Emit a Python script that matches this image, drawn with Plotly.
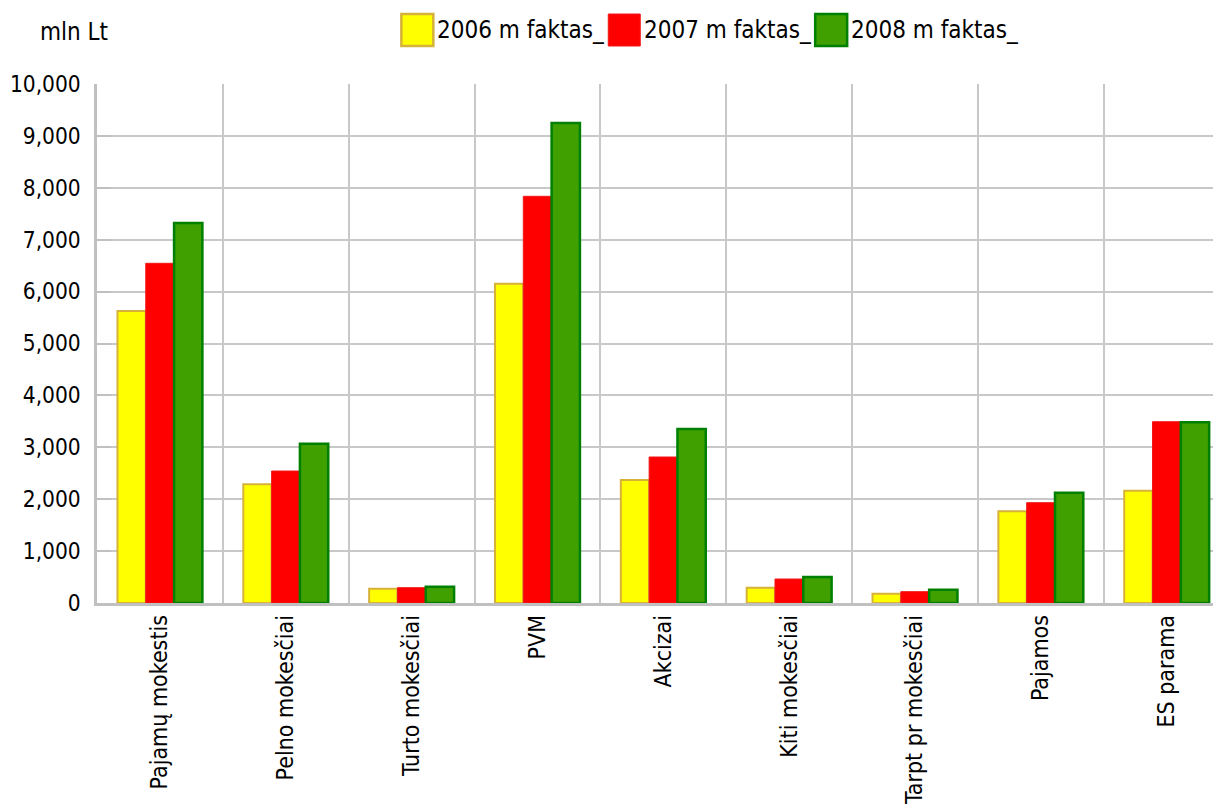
import plotly.graph_objects as go

categories = ["Pajamų mokestis", "Pelno mokesčiai", "Turto mokesčiai", "PVM", "Akcizai",
              "Kiti mokesčiai", "Tarpt pr mokesčiai", "Pajamos", "ES parama"]
series_names = ["2006 m faktas_", "2007 m faktas_", "2008 m faktas_"]
values_2006 = [5626, 2287, 276, 6152, 2370, 295, 180, 1766, 2164]
values_2007 = [6545, 2543, 295, 7836, 2813, 462, 218, 1933, 3493]
values_2008 = [7322, 3070, 314, 9249, 3353, 501, 257, 2126, 3482]
unit_label = "mln Lt"

series_values = [values_2006, values_2007, values_2008]
fill_colors = ["#FFFF00", "#FF0000", "#3FA000"]
line_colors = ["#D6B23A", "#F01818", "#008000"]
line_widths = [2, 1, 2.5]

# page body offset (browser default margin)
OFF = 8
W, H = 1221 - OFF, 810 - OFF
# plot area in reference (window) pixels
L_REF, R_REF, T_REF, B_REF = 96.5, 1221, 84, 603
FONT = "DejaVu Sans Condensed, DejaVu Sans"
FS = 24


def px_x(px):
    return (px - L_REF) / (R_REF - L_REF)


def px_y(py):
    return (B_REF - py) / (B_REF - T_REF)


fig = go.Figure()
for name, vals, fc, lc, lw in zip(series_names, series_values, fill_colors, line_colors, line_widths):
    fig.add_trace(go.Bar(
        x=categories, y=vals, name=name,
        marker=dict(color=fc, line=dict(color=lc, width=lw)),
        showlegend=False,
    ))

cat_px = 125.9
span = (R_REF - L_REF) / cat_px

shapes = []
annotations = []
leg_x0 = 400
leg_step = 207
for i, (name, fc, lc) in enumerate(zip(series_names, fill_colors, line_colors)):
    x0 = leg_x0 + i * leg_step
    shapes.append(dict(type="rect", xref="paper", yref="paper",
                       x0=px_x(x0 + 1), x1=px_x(x0 + 33), y0=px_y(46), y1=px_y(14),
                       fillcolor=fc, line=dict(color=lc, width=2.5 if i != 1 else 1)))
    annotations.append(dict(text=name, xref="paper", yref="paper",
                            x=px_x(x0 + 35), y=px_y(30), xanchor="left", yanchor="middle",
                            showarrow=False, font=dict(size=FS, color="#000000", family=FONT)))

annotations.append(dict(text=unit_label, xref="paper", yref="paper",
                        x=px_x(37), y=px_y(32), xanchor="left", yanchor="middle",
                        showarrow=False, font=dict(size=FS, color="#000000", family=FONT)))

fig.update_layout(
    width=W, height=H,
    margin=dict(l=L_REF - OFF, r=0, t=T_REF - OFF, b=810 - B_REF, pad=0, autoexpand=False),
    paper_bgcolor="white", plot_bgcolor="white",
    font=dict(family=FONT, size=FS, color="#000000"),
    barmode="group", bargap=0.325, bargroupgap=0,
    shapes=shapes, annotations=annotations,
    showlegend=False,
    xaxis=dict(type="category", range=[-0.5, -0.5 + span], tickson="boundaries",
               automargin=False,
               showgrid=True, gridcolor="#C8C8C8", gridwidth=2,
               showline=True, linecolor="#C0C0C0", linewidth=2.5,
               ticks="", tickangle=-90, ticklabelstandoff=0,
               tickfont=dict(size=23)),
    yaxis=dict(range=[0, 10000], dtick=1000, tickformat=",",
               automargin=False,
               showgrid=True, gridcolor="#C8C8C8", gridwidth=2,
               showline=True, linecolor="#C0C0C0", linewidth=2.5,
               zeroline=False,
               ticks="inside", ticklen=14, tickwidth=2, tickcolor="#C0C0C0",
               ticklabelstandoff=9, tickfont=dict(size=22.5)),
)

fig.write_html("out.html")
